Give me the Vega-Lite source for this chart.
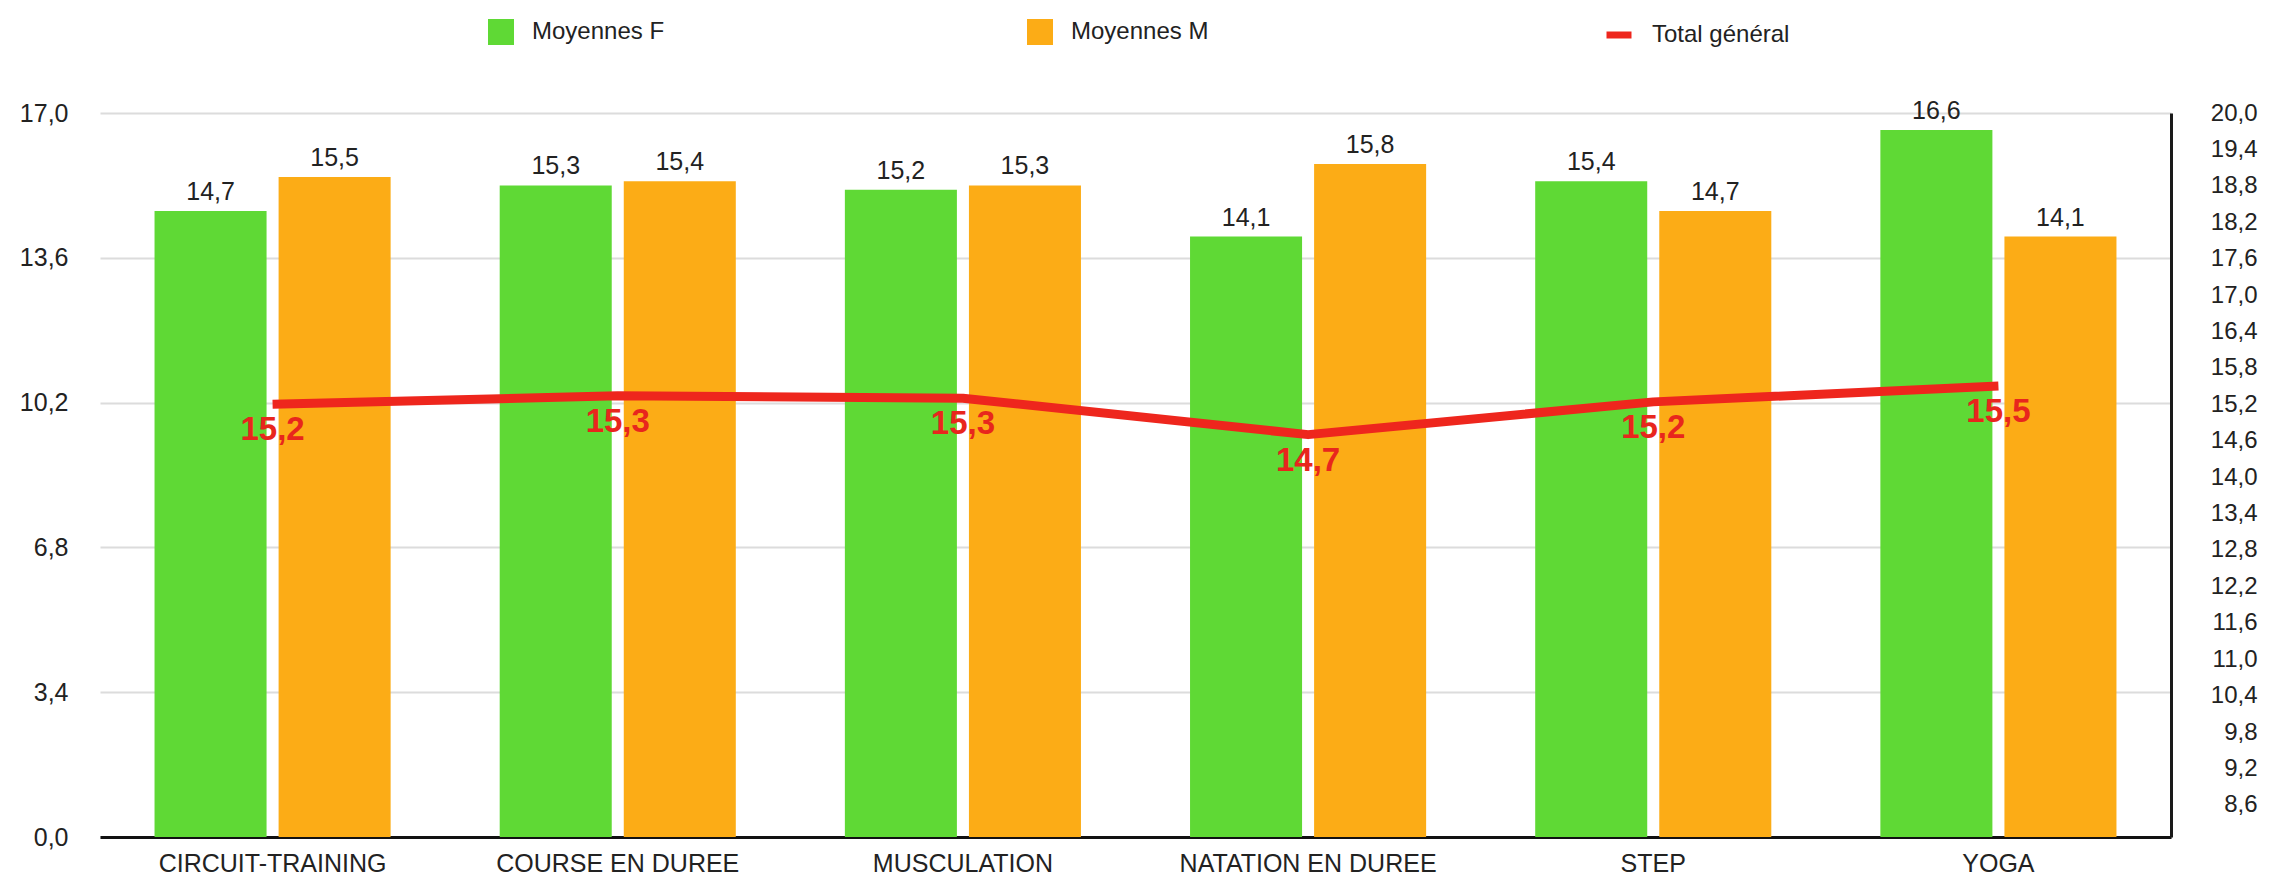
{
  "$schema": "https://vega.github.io/schema/vega-lite/v6.json",
  "width": 2071,
  "height": 724,
  "autosize": {"type": "none"},
  "padding": {"left": 100, "top": 113, "right": 103, "bottom": 44},
  "background": "white",
  "config": {
    "font": "Liberation Sans",
    "view": {"stroke": null},
    "locale": {"number": {"decimal": ",", "thousands": "\u00a0", "grouping": [3], "currency": ["", " €"]}},
    "axis": {"labelFont": "Liberation Sans", "labelColor": "#222222", "labelFontSize": 25, "title": null},
    "axisRight": {"labelOverlap": false}
  },
  "datasets": {
    "bars": [
      {"activite": "CIRCUIT-TRAINING", "serie": "Moyennes F", "valeur": 14.7},
      {"activite": "CIRCUIT-TRAINING", "serie": "Moyennes M", "valeur": 15.5},
      {"activite": "COURSE EN DUREE", "serie": "Moyennes F", "valeur": 15.3},
      {"activite": "COURSE EN DUREE", "serie": "Moyennes M", "valeur": 15.4},
      {"activite": "MUSCULATION", "serie": "Moyennes F", "valeur": 15.2},
      {"activite": "MUSCULATION", "serie": "Moyennes M", "valeur": 15.3},
      {"activite": "NATATION EN DUREE", "serie": "Moyennes F", "valeur": 14.1},
      {"activite": "NATATION EN DUREE", "serie": "Moyennes M", "valeur": 15.8},
      {"activite": "STEP", "serie": "Moyennes F", "valeur": 15.4},
      {"activite": "STEP", "serie": "Moyennes M", "valeur": 14.7},
      {"activite": "YOGA", "serie": "Moyennes F", "valeur": 16.6},
      {"activite": "YOGA", "serie": "Moyennes M", "valeur": 14.1}
    ],
    "total": [
      {"activite": "CIRCUIT-TRAINING", "serie": "Total général", "valeur": 15.2},
      {"activite": "COURSE EN DUREE", "serie": "Total général", "valeur": 15.34},
      {"activite": "MUSCULATION", "serie": "Total général", "valeur": 15.3},
      {"activite": "NATATION EN DUREE", "serie": "Total général", "valeur": 14.7},
      {"activite": "STEP", "serie": "Total général", "valeur": 15.24},
      {"activite": "YOGA", "serie": "Total général", "valeur": 15.5}
    ]
  },
  "layer": [
    {
      "data": {"name": "bars"},
      "layer": [
        {
          "mark": {"type": "bar"},
          "encoding": {
            "x": {
              "field": "activite", "type": "nominal", "sort": null,
              "scale": {"paddingInner": 0.316, "paddingOuter": 0.158},
              "axis": {"orient": "bottom", "labelAngle": 0, "domain": true, "domainColor": "#111111", "domainWidth": 3, "ticks": false, "labelPadding": 14, "labelFontSize": 25, "labelLimit": 400}
            },
            "xOffset": {"field": "serie", "type": "nominal", "sort": ["Moyennes F", "Moyennes M"], "scale": {"paddingInner": 0.097, "paddingOuter": 0}},
            "y": {
              "field": "valeur", "type": "quantitative",
              "scale": {"domain": [0, 17], "nice": false, "zero": true},
              "axis": {"orient": "left", "values": [0, 3.4, 6.8, 10.2, 13.6, 17], "format": ".1f", "domain": false, "ticks": false, "grid": true, "gridColor": "#dcdcdc", "gridWidth": 2, "labelPadding": 32, "labelFontSize": 25}
            },
            "color": {
              "field": "serie", "type": "nominal",
              "scale": {"domain": ["Moyennes F", "Moyennes M"], "range": ["#5fd935", "#fcac16"]},
              "legend": {"orient": "none", "legendX": 388, "legendY": -94, "direction": "horizontal", "title": null, "symbolType": "square", "symbolSize": 676, "symbolStrokeWidth": 0, "symbolOffset": 0, "labelOffset": 18, "labelFontSize": 24, "labelColor": "#222222", "columnPadding": 362, "padding": 0, "labelLimit": 400}
            }
          }
        },
        {
          "mark": {"type": "text", "baseline": "bottom", "dy": -6, "fontSize": 25, "color": "#222222"},
          "encoding": {
            "x": {"field": "activite", "type": "nominal", "sort": null},
            "xOffset": {"field": "serie", "type": "nominal", "sort": ["Moyennes F", "Moyennes M"]},
            "y": {"field": "valeur", "type": "quantitative"},
            "text": {"field": "valeur", "type": "quantitative", "format": ".1f"}
          }
        }
      ]
    },
    {
      "data": {"name": "total"},
      "layer": [
        {
          "mark": {"type": "line", "strokeWidth": 9, "strokeJoin": "round"},
          "encoding": {
            "x": {"field": "activite", "type": "nominal", "sort": null},
            "y": {
              "field": "valeur", "type": "quantitative",
              "scale": {"domain": [8.07, 20], "nice": false, "zero": false},
              "axis": {"orient": "right", "values": [8.6, 9.2, 9.8, 10.4, 11.0, 11.6, 12.2, 12.8, 13.4, 14.0, 14.6, 15.2, 15.8, 16.4, 17.0, 17.6, 18.2, 18.8, 19.4, 20.0], "format": ".1f", "domain": true, "domainColor": "#1a1a1a", "domainWidth": 3, "ticks": false, "grid": false, "labelAlign": "right", "labelPadding": 86, "labelFontSize": 24, "labelOverlap": false, "labelBound": false, "labelFlush": false}
            },
            "stroke": {
              "field": "serie", "type": "nominal",
              "scale": {"domain": ["Total général"], "range": ["#ee261d"]},
              "legend": {"orient": "none", "legendX": 1503, "legendY": -94, "direction": "horizontal", "title": null, "symbolType": "stroke", "symbolSize": 625, "symbolStrokeWidth": 7, "symbolStrokeColor": "#f2574e", "labelOffset": 17, "labelFontSize": 24, "labelColor": "#222222", "padding": 0, "labelLimit": 400}
            }
          }
        },
        {
          "mark": {"type": "text", "baseline": "middle", "dy": 26, "fontSize": 33, "fontWeight": "bold", "color": "#e8261d"},
          "encoding": {
            "x": {"field": "activite", "type": "nominal", "sort": null},
            "y": {
              "field": "valeur", "type": "quantitative",
              "axis": {"orient": "right", "values": [8.6, 9.2, 9.8, 10.4, 11.0, 11.6, 12.2, 12.8, 13.4, 14.0, 14.6, 15.2, 15.8, 16.4, 17.0, 17.6, 18.2, 18.8, 19.4, 20.0], "format": ".1f", "domain": true, "domainColor": "#1a1a1a", "domainWidth": 3, "ticks": false, "grid": false, "labelAlign": "right", "labelPadding": 86, "labelFontSize": 24, "labelOverlap": false, "labelBound": false, "labelFlush": false}
            },
            "text": {"field": "valeur", "type": "quantitative", "format": ".1f"}
          }
        }
      ]
    }
  ],
  "resolve": {"scale": {"y": "independent"}}
}
